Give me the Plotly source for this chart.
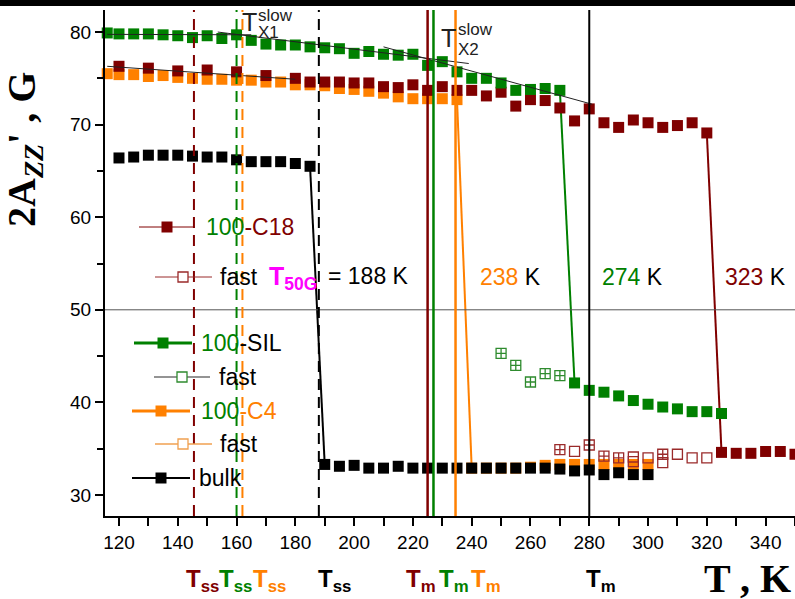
import plotly.graph_objects as go

# ---------------- data ----------------
# 100-C18 (slow component) and after the jump
T_C18 = [120, 130, 140, 150, 160, 170, 180, 185, 190, 195, 200, 205, 210, 215, 220, 225, 230, 235,
         240, 245, 250, 255, 260, 265, 270, 275, 280, 285, 290, 295, 300, 305, 310, 315, 320]
A_C18 = [76.3, 76.1, 75.8, 75.9, 75.7, 75.3, 75.0, 74.6, 74.6, 74.6, 74.5, 74.5, 74.1, 74.0, 74.3, 73.7,
         74.1, 73.7, 73.7, 73.1, 73.5, 72.0, 72.7, 72.6, 71.8, 70.4, 71.7, 70.2, 69.7, 70.5, 70.2, 69.7,
         69.9, 70.2, 69.1]
T_C18_HI = [325, 330, 335, 340, 345, 350]
A_C18_HI = [34.6, 34.5, 34.5, 34.7, 34.7, 34.4]
# 100-C18 fast component
T_C18_FAST = [270, 275, 280, 285, 290, 295, 300, 305, 310, 315, 320, 295, 305]
A_C18_FAST = [34.9, 34.7, 35.4, 34.2, 34.0, 34.1, 34.0, 34.4, 34.4, 34.0, 34.0, 33.6, 33.5]

# 100-SIL
T_SIL = [116, 120, 125, 130, 135, 140, 145, 150, 155, 160, 165, 170, 175, 180, 185, 190, 195, 200,
         205, 210, 215, 220, 225, 230, 235, 240, 245, 250, 255, 260, 265, 270]
A_SIL = [79.9, 79.8, 79.8, 79.8, 79.7, 79.6, 79.4, 79.6, 79.3, 79.7, 79.1, 78.7, 78.6, 78.6, 78.4, 78.3,
         78.2, 77.7, 77.9, 77.6, 77.5, 77.6, 76.4, 76.8, 75.7, 75.0, 75.0, 74.5, 73.7, 73.8, 73.9, 73.7]
T_SIL_HI = [275, 280, 285, 290, 295, 300, 305, 310, 315, 320, 325]
A_SIL_HI = [42.1, 41.3, 41.1, 40.7, 40.2, 39.8, 39.5, 39.3, 39.0, 39.0, 38.8]
T_SIL_FAST = [250, 255, 260, 265, 270]
A_SIL_FAST = [45.3, 44.0, 42.2, 43.1, 42.9]

# 100-C4
T_C4 = [116, 120, 125, 130, 135, 140, 145, 150, 155, 160, 165, 170, 175, 180, 185, 190, 195, 200,
        205, 210, 215, 220, 225, 230, 235]
A_C4 = [75.5, 75.4, 75.4, 75.2, 75.3, 75.1, 75.0, 74.9, 74.9, 74.8, 74.8, 74.6, 74.6, 74.3, 74.3, 74.2,
        73.9, 73.8, 73.6, 73.4, 73.0, 72.8, 72.8, 72.8, 72.7]
T_C4_HI = [240, 245, 250, 255, 260, 265, 270, 275, 280, 285, 290, 295, 300]
A_C4_HI = [32.9, 32.9, 32.9, 32.9, 33.0, 33.2, 33.3, 33.3, 33.3, 33.3, 33.3, 33.3, 33.3]

# bulk
T_BULK = [120, 125, 130, 135, 140, 145, 150, 155, 160, 165, 170, 175, 180, 185]
A_BULK = [66.4, 66.5, 66.7, 66.7, 66.7, 66.6, 66.5, 66.5, 66.2, 66.0, 66.0, 66.0, 65.8, 65.5]
T_BULK_HI = [190, 195, 200, 205, 210, 215, 220, 225, 230, 235, 240, 245, 250, 255, 260, 265, 270,
             275, 280, 285, 290, 295, 300]
A_BULK_HI = [33.3, 33.1, 33.2, 32.9, 32.9, 33.1, 32.9, 32.9, 32.9, 32.9, 32.9, 32.9, 32.9, 32.9,
             32.9, 32.9, 32.8, 32.6, 32.7, 32.2, 32.4, 32.2, 32.2]

# linear fits (thin black)
FIT1_T, FIT1_A = [116, 165], [79.75, 79.7]
FIT2_T, FIT2_A = [153.6, 239], [80.0, 76.6]
FIT3_T, FIT3_A = [210, 281], [78.4, 72.2]
FIT4_T, FIT4_A = [116, 180], [76.3, 74.9]

# characteristic temperatures
T_SS = [145.5, 160, 162, 188]
T_M = [225, 227, 234.5, 280]

# ---------------- styling ----------------
RED = "#800000"
GRN = "#008000"
ORG = "#FF8000"
BLK = "#000000"
RED_OPEN = "#9A2A2A"
GRN_OPEN = "#2E8B2E"
ORG_OPEN = "#F0A050"
SANS = "Liberation Sans, Arial, sans-serif"
SERIF = "Liberation Serif, Times New Roman, serif"

W, H = 795, 599
L, R, T, B = 105, 0, 10, 83
PW, PH = W - L - R, H - T - B


def px(x):
    return (x - L) / PW


def py(y):
    return (H - B - y) / PH


fig = go.Figure()


def markers(x, y, color, symbol="square", size=11, lw=0, lcolor=None):
    fig.add_trace(go.Scatter(
        x=x, y=y, mode="markers", cliponaxis=False, showlegend=False, hoverinfo="skip",
        marker=dict(symbol=symbol, size=size, color=color,
                    line=dict(width=lw, color=lcolor or color))))


def seg(x, y, color, width):
    fig.add_trace(go.Scatter(
        x=x, y=y, mode="lines", showlegend=False, hoverinfo="skip",
        line=dict(color=color, width=width)))


# jump lines between the two regimes
seg([T_BULK[-1], T_BULK_HI[0]], [A_BULK[-1], A_BULK_HI[0]], BLK, 2)
seg([T_C4[-1], T_C4_HI[0]], [A_C4[-1], A_C4_HI[0]], ORG, 2)
seg([T_SIL[-1], T_SIL_HI[0]], [A_SIL[-1], A_SIL_HI[0]], GRN, 2)
seg([T_C18[-1], T_C18_HI[0]], [A_C18[-1], A_C18_HI[0]], RED, 2)

# markers (draw order: orange, red, black, green, open)
markers(T_C4, A_C4, ORG)
markers(T_C4_HI, A_C4_HI, ORG)
markers(T_C18, A_C18, RED)
markers(T_C18_HI, A_C18_HI, RED)
markers(T_BULK, A_BULK, BLK)
markers(T_BULK_HI, A_BULK_HI, BLK)
markers(T_SIL, A_SIL, GRN)
markers(T_SIL_HI, A_SIL_HI, GRN)

c18_sym = ["square-cross-open", "square-open", "square-cross-open", "square-cross-open",
           "square-cross-open", "square-open", "square-open", "square-cross-open",
           "square-open", "square-open", "square-open", "square-open", "square-open"]
fig.add_trace(go.Scatter(
    x=T_C18_FAST, y=A_C18_FAST, mode="markers", showlegend=False, hoverinfo="skip",
    marker=dict(symbol=c18_sym, size=10, color=RED_OPEN, line=dict(width=1.3, color=RED_OPEN))))
fig.add_trace(go.Scatter(
    x=T_SIL_FAST, y=A_SIL_FAST, mode="markers", showlegend=False, hoverinfo="skip",
    marker=dict(symbol="square-cross-open", size=10, color=GRN_OPEN, line=dict(width=1.3, color=GRN_OPEN))))

# fits
for fx, fy in [(FIT1_T, FIT1_A), (FIT2_T, FIT2_A), (FIT3_T, FIT3_A), (FIT4_T, FIT4_A)]:
    seg(fx, fy, "#222222", 1)

shapes = []
# black strip along the top edge of the picture
shapes.append(dict(type="rect", xref="paper", yref="paper", layer="above",
                   x0=px(-10), x1=px(W + 10), y0=py(6), y1=py(-3),
                   fillcolor="black", line=dict(width=0)))
# horizontal reference line at 50 G
shapes.append(dict(type="line", xref="paper", yref="y", x0=0, x1=1, y0=50, y1=50,
                   line=dict(color="#555555", width=1)))
# vertical temperature markers
ss_colors = [RED, GRN, ORG, BLK]
for v, c in zip(T_SS, ss_colors):
    shapes.append(dict(type="line", xref="x", yref="paper", x0=v, x1=v, y0=0, y1=1,
                       line=dict(color=c, width=2, dash="11px,7px")))
m_widths = [2.5, 2.5, 2.5, 2]
for v, c, w in zip(T_M, ss_colors, m_widths):
    shapes.append(dict(type="line", xref="x", yref="paper", x0=v, x1=v, y0=0, y1=1,
                       line=dict(color=c, width=w)))

annotations = []


def txt(x, y, text, size=22, color="black", family=SANS, xanchor="left", angle=0):
    annotations.append(dict(xref="paper", yref="paper", x=px(x), y=py(y), text=text,
                            showarrow=False, xanchor=xanchor, yanchor="middle",
                            textangle=angle, font=dict(size=size, color=color, family=family)))


# manual legend
LEG = [
    (139, 195, 227, RED, 1, 167, True, RED, 204,
     f"<span style='color:{GRN}'>100</span><span style='color:{RED}'>-C18</span>"),
    (155, 212, 277, RED_OPEN, 1, 183, False, RED_OPEN, 218, "fast"),
    (134, 192, 343, GRN, 3, 163, True, GRN, 199, f"<span style='color:{GRN}'>100</span>-SIL"),
    (154, 210, 377, "#707070", 1.5, 182, False, GRN_OPEN, 217, "fast"),
    (132, 190, 411, ORG, 3, 161, True, ORG, 199,
     f"<span style='color:{GRN}'>100</span><span style='color:{ORG}'>-C4</span>"),
    (155, 212, 444, ORG_OPEN, 1.5, 183, False, ORG_OPEN, 218, "fast"),
    (132, 190, 478, BLK, 2, 161, True, BLK, 197, "bulk"),
]
for x0, x1, y, lc, lw, mx, filled, mc, tx, label in LEG:
    shapes.append(dict(type="line", xref="paper", yref="paper", x0=px(x0), x1=px(x1),
                       y0=py(y), y1=py(y), line=dict(color=lc, width=lw)))
    hs = 5.5 if filled else 5
    shapes.append(dict(type="rect", xref="paper", yref="paper", x0=px(mx - hs), x1=px(mx + hs),
                       y0=py(y + hs), y1=py(y - hs),
                       fillcolor=mc if filled else "white",
                       line=dict(color=mc, width=0 if filled else 1.3)))
    txt(tx, y, label, size=23)

# transition temperature labels
txt(267, 278, "<b>T<sub>50G</sub></b>", size=25, color="#FF00FF")
txt(326, 276, "= 188 K", size=23)
txt(478, 277, f"<span style='color:{ORG}'>238</span> K", size=23)
txt(600, 277, f"<span style='color:{GRN}'>274</span> K", size=23)
txt(723, 277, f"<span style='color:{RED}'>323</span> K", size=23)

# T_X slow labels
txt(249, 22, "T", size=25, color="#222222", xanchor="center")
txt(256, 15, "slow", size=17, color="#222222")
txt(256, 33, "X1", size=17, color="#222222")
txt(448, 38, "T", size=25, color="#222222", xanchor="center")
txt(456, 29, "slow", size=17, color="#222222")
txt(456, 49, "X2", size=17, color="#222222")

# bottom characteristic temperature labels
for x, c in [(184, RED), (217, GRN), (251, ORG), (316, BLK)]:
    txt(x, 580, "<b>T<sub>ss</sub></b>", size=24, color=c)
for x, c in [(404, RED), (437, GRN), (469, ORG), (584, BLK)]:
    txt(x, 580, "<b>T<sub>m</sub></b>", size=24, color=c)

# axis titles
txt(702, 578, "<b>T , K</b>", size=40, family=SERIF)
txt(24, 150, "<b>2A<sub><i>ZZ</i></sub>' , G</b>", size=40, family=SERIF,
    xanchor="center", angle=-90)

XR = [115.24, 350]
YR = [27.73, 82.38]
fig.update_layout(
    width=W, height=H, margin=dict(l=L, r=R, t=T, b=B, pad=0),
    paper_bgcolor="white", plot_bgcolor="white", showlegend=False,
    shapes=shapes, annotations=annotations,
    xaxis=dict(range=XR, tick0=120, dtick=20, ticks="outside", ticklen=8, tickwidth=1.5,
               tickcolor="black", minor=dict(tick0=120, dtick=10, ticks="outside", ticklen=8,
                                              tickwidth=1.5, tickcolor="black"),
               showline=True, linewidth=2, linecolor="black", showgrid=False, zeroline=False,
               tickfont=dict(family=SANS, size=19, color="black")),
    yaxis=dict(range=YR, tick0=30, dtick=10, ticks="outside", ticklen=8, tickwidth=1.5,
               tickcolor="black", minor=dict(tick0=30, dtick=5, ticks="outside", ticklen=6,
                                              tickwidth=1.5, tickcolor="black"),
               showline=True, linewidth=2, linecolor="black", showgrid=False, zeroline=False,
               tickfont=dict(family=SANS, size=19, color="black")),
    xaxis2=dict(range=XR, overlaying="x", side="top", anchor="y", tick0=120, dtick=10,
                ticks="inside", ticklen=8, tickwidth=1.5, tickcolor="black", showticklabels=False,
                showline=True, linewidth=2, linecolor="black", showgrid=False, zeroline=False),
    yaxis2=dict(range=YR, overlaying="y", side="right", anchor="x", tick0=30, dtick=10,
                ticks="inside", ticklen=9, tickwidth=1.5, tickcolor="black", showticklabels=False,
                minor=dict(tick0=30, dtick=5, ticks="inside", ticklen=5, tickwidth=1.5,
                           tickcolor="black"),
                showline=True, linewidth=2, linecolor="black", showgrid=False, zeroline=False),
)

fig.write_html("out.html", config={"displayModeBar": False},
               post_script="document.body.style.margin='0px';document.body.style.overflow='hidden';")
